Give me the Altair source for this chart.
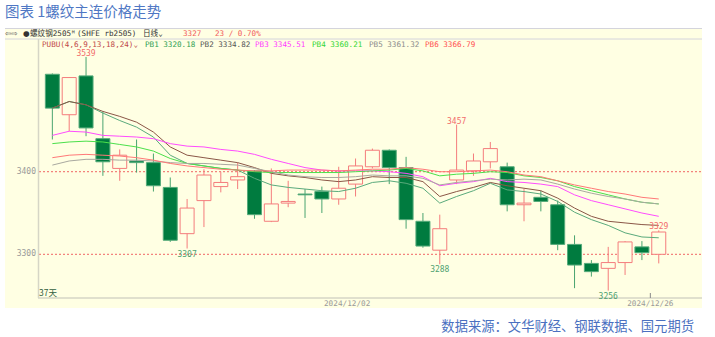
import altair as alt
import pandas as pd

# ---------------- data ----------------
dates = ["2024-11-06", "2024-11-07", "2024-11-08", "2024-11-11", "2024-11-12", "2024-11-13",
         "2024-11-14", "2024-11-15", "2024-11-18", "2024-11-19", "2024-11-20", "2024-11-21",
         "2024-11-22", "2024-11-25", "2024-11-26", "2024-11-27", "2024-11-28", "2024-11-29",
         "2024-12-02", "2024-12-03", "2024-12-04", "2024-12-05", "2024-12-06", "2024-12-09",
         "2024-12-10", "2024-12-11", "2024-12-12", "2024-12-13", "2024-12-16", "2024-12-17",
         "2024-12-18", "2024-12-19", "2024-12-20", "2024-12-23", "2024-12-24", "2024-12-25",
         "2024-12-26"]
opens = [3518, 3469, 3516, 3440, 3404, 3413, 3411, 3381, 3325, 3365, 3382, 3390, 3401, 3340,
         3362, 3373, 3376, 3367, 3385, 3406, 3426, 3405, 3340, 3305, 3390, 3401, 3412, 3406,
         3360, 3369, 3360, 3312, 3289, 3283, 3290, 3309, 3300]
closes = [3477, 3514, 3453, 3412, 3420, 3411, 3383, 3317, 3356, 3396, 3387, 3394, 3348, 3361,
          3364, 3372, 3367, 3380, 3407, 3426, 3405, 3342, 3310, 3331, 3402, 3413, 3428, 3360,
          3362, 3364, 3312, 3287, 3279, 3290, 3315, 3302, 3327]
highs = [3519, 3514, 3539, 3473, 3427, 3439, 3422, 3393, 3367, 3403, 3400, 3411, 3402, 3404,
         3389, 3379, 3382, 3406, 3416, 3428, 3427, 3418, 3350, 3348, 3457, 3422, 3436, 3411,
         3379, 3377, 3365, 3323, 3293, 3309, 3316, 3316, 3329]
lows = [3439, 3449, 3443, 3395, 3389, 3399, 3376, 3315, 3307, 3333, 3375, 3379, 3343, 3339,
        3357, 3344, 3350, 3360, 3370, 3404, 3385, 3331, 3308, 3288, 3385, 3395, 3404, 3352,
        3340, 3352, 3305, 3259, 3273, 3256, 3275, 3293, 3289]

pb_names = ["PB1", "PB2", "PB3", "PB4", "PB5", "PB6"]
pb1 = [3477, 3485, 3481, 3471, 3462, 3454, 3442, 3420, 3410, 3407, 3404, 3402, 3392, 3384,
       3381, 3379, 3377, 3376, 3380, 3387, 3389, 3386, 3380, 3362, 3370, 3377, 3386, 3378,
       3376, 3373, 3364, 3351, 3342, 3335, 3326, 3321, 3320]
pb2 = [3477, 3485, 3481, 3473, 3467, 3460, 3448, 3430, 3420, 3417, 3414, 3411, 3405, 3398,
       3395, 3393, 3390, 3388, 3390, 3394, 3393, 3393, 3388, 3370, 3376, 3381, 3387, 3383,
       3380, 3377, 3368, 3356, 3346, 3340, 3338, 3336, 3335]
pb3 = [3444, 3449, 3448, 3444, 3443, 3442, 3440, 3434, 3431, 3430, 3427, 3425, 3421, 3415,
       3410, 3405, 3402, 3401, 3401, 3401, 3400, 3398, 3394, 3383, 3386, 3388, 3392, 3388,
       3387, 3385, 3382, 3372, 3365, 3360, 3355, 3350, 3346]
pb4 = [3434, 3436, 3437, 3436, 3433, 3430, 3425, 3416, 3410, 3407, 3404, 3402, 3400, 3399,
       3399, 3399, 3399, 3399, 3400, 3401, 3402, 3404, 3401, 3395, 3397, 3398, 3400, 3399,
       3395, 3393, 3389, 3382, 3377, 3372, 3367, 3363, 3361]
pb5 = [3408, 3413, 3415, 3415, 3414, 3414, 3413, 3411, 3410, 3410, 3409, 3408, 3404, 3400,
       3396, 3394, 3393, 3393, 3394, 3396, 3395, 3395, 3392, 3384, 3387, 3389, 3391, 3390,
       3391, 3390, 3385, 3379, 3374, 3370, 3367, 3363, 3361]
pb6 = [3417, 3420, 3421, 3420, 3419, 3417, 3414, 3410, 3407, 3405, 3403, 3402, 3401, 3401,
       3402, 3402, 3402, 3401, 3402, 3403, 3403, 3405, 3403, 3400, 3400, 3401, 3402, 3400,
       3396, 3394, 3389, 3384, 3380, 3376, 3373, 3369, 3367]
pb_last = [3320.18, 3334.82, 3345.51, 3360.21, 3361.32, 3366.79]

y_ticks = [3300, 3400]
high_marks = [2, 24, 36]
low_marks = [8, 23, 33]
date_marks = [18, 36]
title_text = "图表 1螺纹主连价格走势"
source_text = "数据来源：文华财经、钢联数据、国元期货"
header_texts = ["⇦⇨", "●", "螺纹钢2505ᴹ", "(SHFE rb2505)", "日线⌄", "3327", "23 / 0.70%"]
indicator_text = "PUBU(4,6,9,13,18,24)⌄"
days_text = "37天"

# ---------------- layout / style ----------------
W, H = 664, 260
PX, PY = 38, 38
BG = "#ffffe3"
GREEN = "#007b3f"
GREEN_EDGE = "#55ab7b"
RED = "#f47c7c"
AXIS_C = "#d6d6c6"
MONO = "DejaVu Sans Mono, Noto Sans CJK SC"
SANS = "DejaVu Sans"
CJK = "Noto Sans CJK SC"
pb_colors = ["#5aaa7c", "#8a5646", "#ff4cff", "#4be04b", "#a9a9a0", "#ff7878"]
pb_text_colors = ["#2f9f55", "#555555", "#ff3cff", "#33d633", "#8c8c8c", "#ff5050"]

xs = alt.Scale(domain=[-0.555, 38.27], nice=False, zero=False)
ys = alt.Scale(domain=[3247.1, 3561.9], nice=False, zero=False)

n = len(opens)
df = pd.DataFrame({"i": list(range(n)), "date": dates, "open": opens, "close": closes,
                   "high": highs, "low": lows})
df["dir"] = ["up" if c >= o else "down" for o, c in zip(opens, closes)]
df["top"] = [max(o, c) for o, c in zip(opens, closes)]
df["bot"] = [min(o, c) for o, c in zip(opens, closes)]

ma_rows = []
for name, series in zip(pb_names, [pb1, pb2, pb3, pb4, pb5, pb6]):
    for i, v in enumerate(series):
        ma_rows.append({"i": i, "v": v, "s": name})
ma = pd.DataFrame(ma_rows)

one = pd.DataFrame({"a": [0]})


def X(field):
    return alt.X(field, scale=xs, axis=None)


def Y(field):
    return alt.Y(field, scale=ys, axis=None)


def txt(text, x, y, color, size, font, align="left", baseline="middle"):
    return alt.Chart(pd.DataFrame({"t": [text]})).mark_text(
        align=align, baseline=baseline, color=color, fontSize=size, font=font
    ).encode(text="t:N", x=alt.value(x - PX), y=alt.value(y - PY))


panel = alt.Chart(one).mark_rect(fill=BG).encode(
    x=alt.value(5 - PX), x2=alt.value(W), y=alt.value(28 - PY), y2=alt.value(308 - PY))

hlines = alt.Chart(pd.DataFrame({"yy": [28.5 - PY, 39 - PY]})).mark_rule(
    color="#d4d4dc", strokeWidth=1).encode(
    y=alt.Y("yy:Q", scale=None), x=alt.value(5 - PX), x2=alt.value(W))

ref = alt.Chart(pd.DataFrame({"lv": y_ticks})).mark_rule(
    color="#f06464", strokeDash=[2, 2], strokeWidth=1).encode(
    y=Y("lv:Q"), x=alt.value(1), x2=alt.value(W))

ylab = alt.Chart(pd.DataFrame({"lv": y_ticks})).mark_text(
    align="right", baseline="middle", color="#9a9a9a", fontSize=8, font=MONO).encode(
    y=Y("lv:Q"), x=alt.value(-2), text="lv:Q")

axis_left = alt.Chart(one).mark_rule(color=AXIS_C, strokeWidth=1.5).encode(
    x=alt.value(0.5), y=alt.value(1), y2=alt.value(H))
axis_bottom = alt.Chart(one).mark_rule(color=AXIS_C, strokeWidth=1.5).encode(
    x=alt.value(0), x2=alt.value(W), y=alt.value(H))

base = alt.Chart(df)

wick_down = base.transform_filter("datum.dir == 'down'").mark_rule(
    color="#4aa470", strokeWidth=1).encode(x=X("i:Q"), y=Y("low:Q"), y2="high:Q")
wick_up = base.transform_filter("datum.dir == 'up'").mark_rule(
    color=RED, strokeWidth=1).encode(x=X("i:Q"), y=Y("low:Q"), y2="high:Q")

body_down = base.transform_filter("datum.dir == 'down'").mark_bar(
    size=14, fill=GREEN, stroke=GREEN_EDGE, strokeWidth=1).encode(
    x=X("i:Q"), y=Y("bot:Q"), y2="top:Q")
body_up = base.transform_filter("datum.dir == 'up'").mark_bar(
    size=14, fill=BG, stroke=RED, strokeWidth=1).encode(
    x=X("i:Q"), y=Y("bot:Q"), y2="top:Q")

lines = alt.Chart(ma).mark_line(strokeWidth=1).encode(
    x=X("i:Q"), y=Y("v:Q"),
    color=alt.Color("s:N", scale=alt.Scale(domain=pb_names, range=pb_colors), legend=None),
    order="i:Q")

hi_lab = base.transform_filter(alt.FieldOneOfPredicate(field="i", oneOf=high_marks)).mark_text(
    baseline="bottom", dy=1, color="#f26b6b", fontSize=8, font=MONO).encode(
    x=X("i:Q"), y=Y("high:Q"), text="high:Q")
lo_lab = base.transform_filter(alt.FieldOneOfPredicate(field="i", oneOf=low_marks)).mark_text(
    baseline="top", dy=2, color="#4f9f72", fontSize=8, font=MONO).encode(
    x=X("i:Q"), y=Y("low:Q"), text="low:Q")

date_lab = base.transform_filter(alt.FieldOneOfPredicate(field="i", oneOf=date_marks)).transform_calculate(
    xp="datum.i - 0.5", lab="replace(datum.date, /-/g, '/')").mark_text(
    baseline="middle", color="#9a9a9a", fontSize=7.7, font=MONO).encode(
    x=X("xp:Q"), y=alt.value(303.5 - PY), text="lab:N")
date_tick = base.transform_filter(f"datum.i == {date_marks[-1]}").transform_calculate(
    xp="datum.i - 0.5").mark_rule(color="#888888", strokeWidth=1).encode(
    x=X("xp:Q"), y=alt.value(H - 5), y2=alt.value(H))

hx = [5, 23, 30, 77, 143, 183, 215]
hc = ["#555555", "#333333", "#333333", "#333333", "#333333", "#f25c5c", "#f25c5c"]
hf = [SANS, SANS, MONO, MONO, MONO, MONO, MONO]
header = [txt(t, x, 34, c, 7.6, f) for t, x, c, f in zip(header_texts, hx, hc, hf)]
header.append(txt(indicator_text, 42, 44.5, "#c04848", 7.6, MONO))
pbx = [145, 200, 255, 312, 369, 425]
for name, val, x, c in zip(pb_names, pb_last, pbx, pb_text_colors):
    header.append(txt(f"{name} {val:.2f}", x, 44.5, c, 7.6, MONO))

title = txt(title_text, 5, 13, "#4f77c4", 14.5, CJK)
source = txt(source_text, 694, 326.5, "#4a70c0", 13.3, CJK, align="right")
days = txt(days_text, 39, 293, "#33603f", 8.5, CJK)

chart = alt.layer(
    panel, hlines, ref, axis_left, axis_bottom, ylab,
    wick_down, wick_up, body_down, body_up, lines,
    hi_lab, lo_lab, date_lab, date_tick, *header, title, source, days
).properties(
    width=W, height=H,
    autosize=alt.AutoSizeParams(type="none"),
    padding={"left": PX, "top": PY, "right": 715 - PX - W, "bottom": 337 - PY - H},
    background="white"
).configure_view(stroke=None)

chart.save("out.html", embed_options={"renderer": "svg", "actions": False})
